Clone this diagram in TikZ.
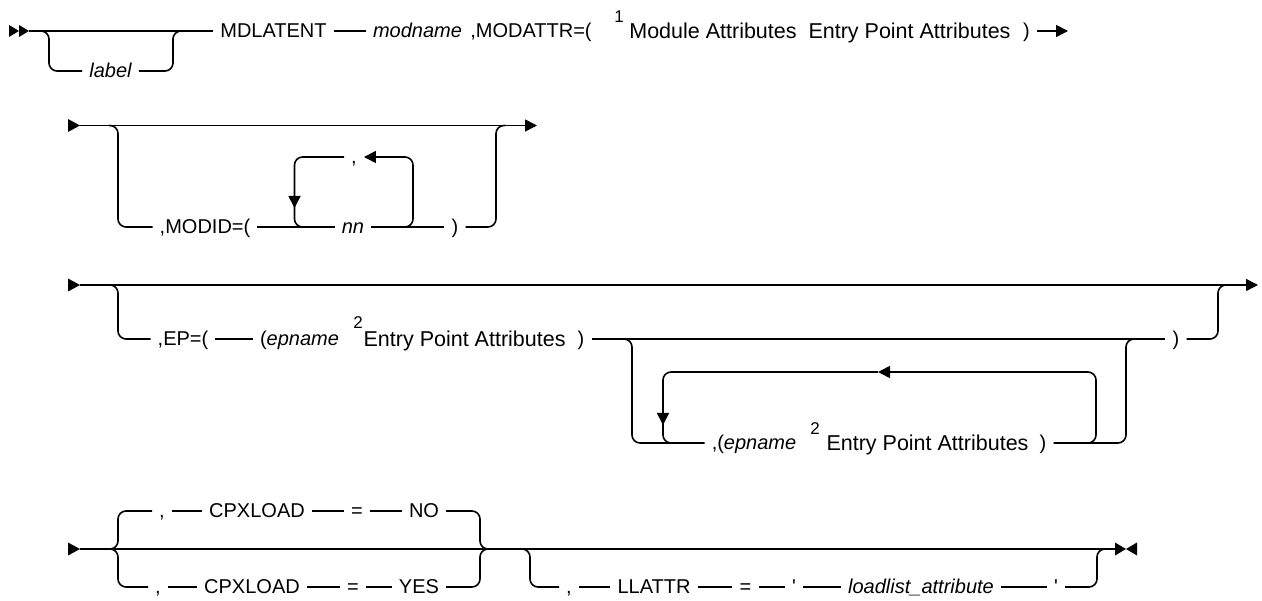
\documentclass[tikz,border=0pt]{standalone}
\usepackage{fontspec}
\setmainfont{Liberation Sans}
\usetikzlibrary{arrows.meta}
\tikzset{
  tok/.style={inner xsep=7pt, inner ysep=0pt, text height=14pt, text depth=0pt, font=\fontsize{20}{24}\selectfont},
  var/.style={tok, font=\fontsize{20}{24}\selectfont\itshape},
  frag/.style={tok, text height=15pt, font=\fontsize{21.5}{26}\selectfont},
  sup/.style={inner sep=0pt, text height=12pt, text depth=0pt, font=\fontsize{17}{20}\selectfont},
  rail/.style={line width=1.6pt, rounded corners=8pt},
  railtip/.style={-{Triangle[length=12pt,width=12pt]}},
  pics/railstart/.style={code={\fill (0,-6.5) -- (12,0) -- (0,6.5) -- cycle;}},
  pics/railbegin/.style={code={\fill (0,-6) -- (10,0) -- (0,6) -- cycle; \fill (10,-6) -- (20,0) -- (10,6) -- cycle;}},
  pics/railend/.style={code={\fill (0,-6.5) -- (11,0) -- (0,6.5) -- cycle; \fill (22,-6.5) -- (11,0) -- (22,6.5) -- cycle;}}
}
\begin{document}
\begin{tikzpicture}[x=1pt, y=-1pt]
\useasboundingbox (0,0) rectangle (1262,601);
% first line
\pic at (9,31) {railbegin};
\coordinate (r1s) at (29,31);
\coordinate (r1a) at (39,31);
\coordinate (r1b) at (173,31);
\coordinate (r1e) at (1068,31);
\node[var] (lab) at (110.5,71) {label};
\node[tok] (mdl) at (273.5,31) {MDLATENT};
\node[var] (modn) at (417.5,31) {modname};
\node[tok] (mattr) at (531,31) {,MODATTR=(};
\node[sup] (n1) at (619,17) {1};
\node[frag] (mods) at (713,31) {Module Attributes};
\node[frag] (epa0) at (909.5,31) {Entry Point Attributes};
\node[tok] (rp1) at (1026.5,31) {)};
\draw[rail] (r1s) -- (mdl.west);
\draw[rail] (r1a) -- ++(10,0) |- (lab.west);
\draw[rail] (lab.east) -| (r1b) -- ++(10,0);
\draw[rail] (mdl.east) -- (modn.west);
\draw[rail, railtip] (rp1.east) -- (r1e);
% MODID
\pic at (68,125.5) {railstart};
\coordinate (r2s) at (80,125.5);
\coordinate (r2e) at (537,125.5);
\coordinate (r2a) at (109,125.5);
\coordinate (r2b) at (496,125.5);
\coordinate (r2p) at (401,227);
\coordinate (r2r) at (413,157);
\coordinate (r2l) at (294.5,208);
\coordinate (r2q) at (294.5,200);
\coordinate (r2o) at (307,227);
\node[tok] (modid) at (205,227) {,MODID=(};
\node[var] (nn) at (353,227) {nn};
\node[tok] (rp2) at (455,227) {)};
\node[tok] (cm2) at (354,157) {,};
\draw[rail, railtip] (r2s) -- (r2e);
\draw[rail] (r2a) -- ++(9,0) |- (modid.west);
\draw[rail] (modid.east) -- (nn.west) (nn.east) -- (rp2.west);
\draw[rail] (rp2.east) -| (r2b) -- ++(9,0);
\draw[rail, railtip] (r2p) -| (r2r) -- (cm2.east);
\draw[rail, railtip] (cm2.west) -| (r2l);
\draw[rail] (r2q) |- (r2o);
% EP
\pic at (68,285) {railstart};
\coordinate (r3s) at (80,285);
\coordinate (r3e) at (1258,285);
\coordinate (r3a) at (109,285);
\coordinate (r3b) at (1218,285);
\coordinate (r3c) at (622,339);
\coordinate (r3d) at (1126,339);
\coordinate (r3p) at (1084,443);
\coordinate (r3r) at (1096,372);
\coordinate (r3t) at (878,372);
\coordinate (r3l) at (663,425);
\coordinate (r3q) at (663,417);
\coordinate (r3o) at (676,443);
\node[tok] (ep) at (183,339) {,EP=(};
\node[tok] (epn1) at (299.5,339) {(\textit{epname}};
\node[sup] (n2a) at (358,323) {2};
\node[frag] (epa1) at (464.6,339) {Entry Point Attributes};
\node[tok] (rp3) at (581,339) {)};
\node[tok] (rp4) at (1176,339) {)};
\node[tok] (epn2) at (754,443) {,(\textit{epname}};
\node[sup] (n2b) at (815,429) {2};
\node[frag] (epa2) at (927.5,443) {Entry Point Attributes};
\node[tok] (rp5) at (1043,443) {)};
\draw[rail, railtip] (r3s) -- (r3e);
\draw[rail] (r3a) -- ++(9,0) |- (ep.west);
\draw[rail] (ep.east) -- (epn1.west) (rp3.east) -- (rp4.west);
\draw[rail] (rp4.east) -| (r3b) -- ++(10,0);
\draw[rail] (r3c) -- ++(10,0) |- (epn2.west);
\draw[rail] (rp5.east) -| (r3d) -- ++(10,0);
\draw[rail, railtip] (r3p) -| (r3r) -- (r3t);
\draw[rail, railtip] (r3t) -| (r3l);
\draw[rail] (r3q) |- (r3o);
% CPXLOAD, LLATTR
\pic at (68,549) {railstart};
\coordinate (r4s) at (80,549);
\coordinate (r4e) at (1115,549);
\coordinate (r4a) at (109,549);
\coordinate (r4b) at (480,549);
\coordinate (r4c) at (521,549);
\coordinate (r4d) at (1097,549);
\node[tok] (cm4a) at (162,511) {,};
\node[tok] (cpx1) at (257,511) {CPXLOAD};
\node[tok] (eq4a) at (357,511) {=};
\node[tok] (no) at (424,511) {NO};
\node[tok] (cm4b) at (158,587) {,};
\node[tok] (cpx2) at (252,587) {CPXLOAD};
\node[tok] (eq4b) at (353,587) {=};
\node[tok] (yes) at (419,587) {YES};
\node[tok] (cm4c) at (569,587) {,};
\node[tok] (llat) at (654,587) {LLATTR};
\node[tok] (eq4c) at (745.5,587) {=};
\node[tok] (q1) at (794,587) {\textquotesingle};
\node[var] (lla) at (921,587) {loadlist\_attribute};
\node[tok] (q2) at (1056,587) {\textquotesingle};
\draw[rail] (r4s) -- (r4e);
\pic at (r4e) {railend};
\draw[rail] (r4a) -- ++(9,0) |- (cm4a.west);
\draw[rail] (r4a) -- ++(9,0) |- (cm4b.west);
\draw[rail] (cm4a.east) -- (cpx1.west) (cpx1.east) -- (eq4a.west) (eq4a.east) -- (no.west);
\draw[rail] (cm4b.east) -- (cpx2.west) (cpx2.east) -- (eq4b.west) (eq4b.east) -- (yes.west);
\draw[rail] (no.east) -| (r4b) -- ++(8,0);
\draw[rail] (yes.east) -| (r4b) -- ++(8,0);
\draw[rail] (r4c) -- ++(9,0) |- (cm4c.west);
\draw[rail] (cm4c.east) -- (llat.west) (llat.east) -- (eq4c.west) (eq4c.east) -- (q1.west) (q1.east) -- (lla.west) (lla.east) -- (q2.west);
\draw[rail] (q2.east) -| (r4d) -- ++(8,0);
\end{tikzpicture}
\end{document}
